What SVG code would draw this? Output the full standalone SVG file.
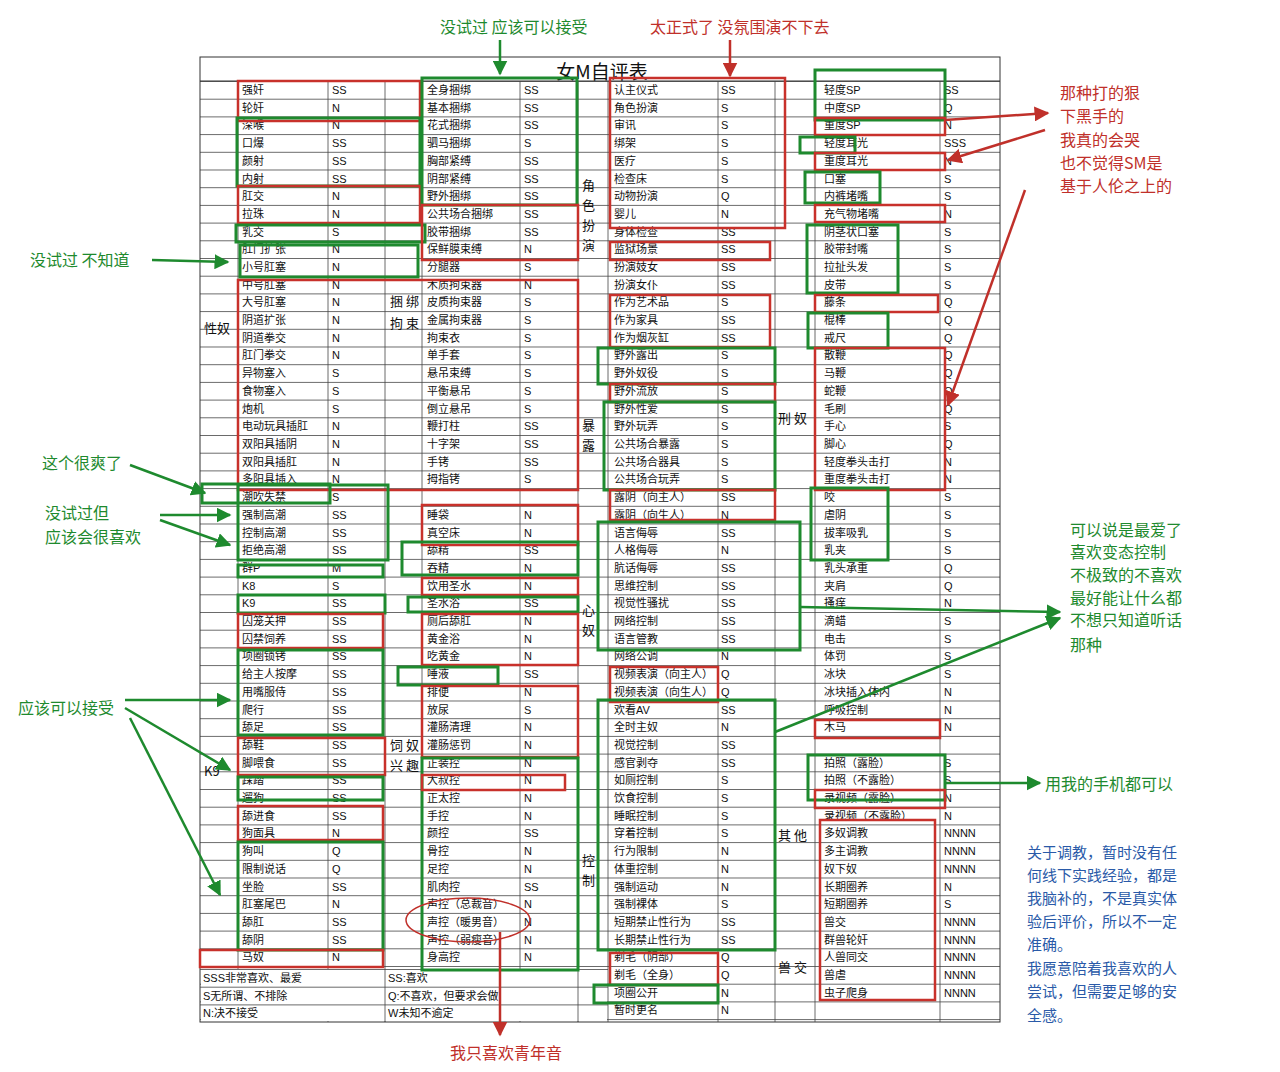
<svg xmlns="http://www.w3.org/2000/svg" width="1280" height="1072" viewBox="0 0 1280 1072">
<defs>
<pattern id="rows" patternUnits="userSpaceOnUse" x="0" y="81" width="1280" height="17.7"><line x1="0" y1="0.5" x2="1280" y2="0.5" stroke="#444" stroke-width="0.8"/></pattern>
<marker id="ag" viewBox="0 0 10 10" refX="9" refY="5" markerWidth="6" markerHeight="6" orient="auto"><path d="M0,0L10,5L0,10z" fill="#1e8a2e"/></marker>
<marker id="ar" viewBox="0 0 10 10" refX="9" refY="5" markerWidth="6" markerHeight="6" orient="auto"><path d="M0,0L10,5L0,10z" fill="#c0302a"/></marker>
</defs>
<style>
.t{font-family:"Liberation Sans","Noto Sans CJK SC",sans-serif;font-size:11px;fill:#111}
.c{font-family:"Noto Sans CJK SC",sans-serif;font-size:13px;fill:#111}
.ti{font-family:"Noto Sans CJK SC",sans-serif;font-size:19px;fill:#111}
.g{fill:none;stroke:#1e8a2e;stroke-width:3}
.r{fill:none;stroke:#c8312b;stroke-width:2.5}
.gl{stroke:#1e8a2e;stroke-width:2.5;fill:none}
.rl{stroke:#c0302a;stroke-width:2.5;fill:none}
.gt{font-family:"Noto Sans CJK SC",sans-serif;font-size:16px;fill:#1e8a2e}
.rt{font-family:"Noto Sans CJK SC",sans-serif;font-size:16px;fill:#c0302a}
.bt{font-family:"Noto Sans CJK SC",sans-serif;font-size:15px;fill:#2a5aa8}
</style>
<rect width="1280" height="1072" fill="#fff"/>
<g id="table">
<rect x="200" y="81" width="800" height="941" fill="url(#rows)"/>
<rect x="200" y="57" width="800" height="965" fill="none" stroke="#333"/>
<line x1="200" y1="81" x2="1000" y2="81" stroke="#333"/>
<g stroke="#444" stroke-width="0.8">
<line x1="238" y1="81" x2="238" y2="970"/><line x1="328" y1="81" x2="328" y2="1022"/><line x1="385" y1="81" x2="385" y2="1022"/><line x1="422" y1="81" x2="422" y2="970"/><line x1="520" y1="81" x2="520" y2="1022"/><line x1="578" y1="81" x2="578" y2="1022"/><line x1="608" y1="81" x2="608" y2="1022"/><line x1="718" y1="81" x2="718" y2="1022"/><line x1="775" y1="81" x2="775" y2="1022"/><line x1="815" y1="81" x2="815" y2="1022"/><line x1="940" y1="81" x2="940" y2="1022"/>
</g>
<text x="602" y="79" class="ti" text-anchor="middle">女M自评表</text>
<text class="c"><tspan x="204" y="333">性奴</tspan><tspan x="204" y="776">K9</tspan><tspan x="390" y="306">捆 绑</tspan><tspan x="390" y="328">拘 束</tspan><tspan x="390" y="750">饲 奴</tspan><tspan x="390" y="770">兴 趣</tspan><tspan x="582" y="190">角</tspan><tspan x="582" y="210">色</tspan><tspan x="582" y="230">扮</tspan><tspan x="582" y="250">演</tspan><tspan x="582" y="430">暴</tspan><tspan x="582" y="450">露</tspan><tspan x="582" y="615">心</tspan><tspan x="582" y="635">奴</tspan><tspan x="582" y="865">控</tspan><tspan x="582" y="885">制</tspan><tspan x="778" y="423">刑 奴</tspan><tspan x="778" y="840">其 他</tspan><tspan x="778" y="972">兽 交</tspan></text>
<text class="t"><tspan x="242" y="94">强奸</tspan><tspan x="242" dy="17.7">轮奸</tspan><tspan x="242" dy="17.7">深喉</tspan><tspan x="242" dy="17.7">口爆</tspan><tspan x="242" dy="17.7">颜射</tspan><tspan x="242" dy="17.7">内射</tspan><tspan x="242" dy="17.7">肛交</tspan><tspan x="242" dy="17.7">拉珠</tspan><tspan x="242" dy="17.7">乳交</tspan><tspan x="242" dy="17.7">肛门扩张</tspan><tspan x="242" dy="17.7">小号肛塞</tspan><tspan x="242" dy="17.7">中号肛塞</tspan><tspan x="242" dy="17.7">大号肛塞</tspan><tspan x="242" dy="17.7">阴道扩张</tspan><tspan x="242" dy="17.7">阴道拳交</tspan><tspan x="242" dy="17.7">肛门拳交</tspan><tspan x="242" dy="17.7">异物塞入</tspan><tspan x="242" dy="17.7">食物塞入</tspan><tspan x="242" dy="17.7">炮机</tspan><tspan x="242" dy="17.7">电动玩具插肛</tspan><tspan x="242" dy="17.7">双阳具插阴</tspan><tspan x="242" dy="17.7">双阳具插肛</tspan><tspan x="242" dy="17.7">多阳具插入</tspan><tspan x="242" dy="17.7">潮吹失禁</tspan><tspan x="242" dy="17.7">强制高潮</tspan><tspan x="242" dy="17.7">控制高潮</tspan><tspan x="242" dy="17.7">拒绝高潮</tspan><tspan x="242" dy="17.7">群P</tspan><tspan x="242" dy="17.7">K8</tspan><tspan x="242" dy="17.7">K9</tspan><tspan x="242" dy="17.7">囚笼关押</tspan><tspan x="242" dy="17.7">囚禁饲养</tspan><tspan x="242" dy="17.7">项圈锁铐</tspan><tspan x="242" dy="17.7">给主人按摩</tspan><tspan x="242" dy="17.7">用嘴服侍</tspan><tspan x="242" dy="17.7">爬行</tspan><tspan x="242" dy="17.7">舔足</tspan><tspan x="242" dy="17.7">舔鞋</tspan><tspan x="242" dy="17.7">脚喂食</tspan><tspan x="242" dy="17.7">踩踏</tspan><tspan x="242" dy="17.7">遛狗</tspan><tspan x="242" dy="17.7">舔进食</tspan><tspan x="242" dy="17.7">狗面具</tspan><tspan x="242" dy="17.7">狗叫</tspan><tspan x="242" dy="17.7">限制说话</tspan><tspan x="242" dy="17.7">坐脸</tspan><tspan x="242" dy="17.7">肛塞尾巴</tspan><tspan x="242" dy="17.7">舔肛</tspan><tspan x="242" dy="17.7">舔阴</tspan><tspan x="242" dy="17.7">马奴</tspan></text>
<text class="t"><tspan x="332" y="94">SS</tspan><tspan x="332" dy="17.7">N</tspan><tspan x="332" dy="17.7">N</tspan><tspan x="332" dy="17.7">SS</tspan><tspan x="332" dy="17.7">SS</tspan><tspan x="332" dy="17.7">SS</tspan><tspan x="332" dy="17.7">N</tspan><tspan x="332" dy="17.7">N</tspan><tspan x="332" dy="17.7">S</tspan><tspan x="332" dy="17.7">N</tspan><tspan x="332" dy="17.7">N</tspan><tspan x="332" dy="17.7">N</tspan><tspan x="332" dy="17.7">N</tspan><tspan x="332" dy="17.7">N</tspan><tspan x="332" dy="17.7">N</tspan><tspan x="332" dy="17.7">N</tspan><tspan x="332" dy="17.7">S</tspan><tspan x="332" dy="17.7">S</tspan><tspan x="332" dy="17.7">S</tspan><tspan x="332" dy="17.7">N</tspan><tspan x="332" dy="17.7">N</tspan><tspan x="332" dy="17.7">N</tspan><tspan x="332" dy="17.7">N</tspan><tspan x="332" dy="17.7">S</tspan><tspan x="332" dy="17.7">SS</tspan><tspan x="332" dy="17.7">SS</tspan><tspan x="332" dy="17.7">SS</tspan><tspan x="332" dy="17.7">M</tspan><tspan x="332" dy="17.7">S</tspan><tspan x="332" dy="17.7">SS</tspan><tspan x="332" dy="17.7">SS</tspan><tspan x="332" dy="17.7">SS</tspan><tspan x="332" dy="17.7">SS</tspan><tspan x="332" dy="17.7">SS</tspan><tspan x="332" dy="17.7">SS</tspan><tspan x="332" dy="17.7">SS</tspan><tspan x="332" dy="17.7">SS</tspan><tspan x="332" dy="17.7">SS</tspan><tspan x="332" dy="17.7">SS</tspan><tspan x="332" dy="17.7">SS</tspan><tspan x="332" dy="17.7">SS</tspan><tspan x="332" dy="17.7">SS</tspan><tspan x="332" dy="17.7">N</tspan><tspan x="332" dy="17.7">Q</tspan><tspan x="332" dy="17.7">Q</tspan><tspan x="332" dy="17.7">SS</tspan><tspan x="332" dy="17.7">N</tspan><tspan x="332" dy="17.7">SS</tspan><tspan x="332" dy="17.7">SS</tspan><tspan x="332" dy="17.7">N</tspan></text>
<text class="t"><tspan x="427" y="94">全身捆绑</tspan><tspan x="427" dy="17.7">基本捆绑</tspan><tspan x="427" dy="17.7">花式捆绑</tspan><tspan x="427" dy="17.7">驷马捆绑</tspan><tspan x="427" dy="17.7">胸部紧缚</tspan><tspan x="427" dy="17.7">阴部紧缚</tspan><tspan x="427" dy="17.7">野外捆绑</tspan><tspan x="427" dy="17.7">公共场合捆绑</tspan><tspan x="427" dy="17.7">胶带捆绑</tspan><tspan x="427" dy="17.7">保鲜膜束缚</tspan><tspan x="427" dy="17.7">分腿器</tspan><tspan x="427" dy="17.7">木质拘束器</tspan><tspan x="427" dy="17.7">皮质拘束器</tspan><tspan x="427" dy="17.7">金属拘束器</tspan><tspan x="427" dy="17.7">拘束衣</tspan><tspan x="427" dy="17.7">单手套</tspan><tspan x="427" dy="17.7">悬吊束缚</tspan><tspan x="427" dy="17.7">平衡悬吊</tspan><tspan x="427" dy="17.7">倒立悬吊</tspan><tspan x="427" dy="17.7">鞭打柱</tspan><tspan x="427" dy="17.7">十字架</tspan><tspan x="427" dy="17.7">手铐</tspan><tspan x="427" dy="17.7">拇指铐</tspan><tspan x="427" dy="17.7">&#160;</tspan><tspan x="427" dy="17.7">睡袋</tspan><tspan x="427" dy="17.7">真空床</tspan><tspan x="427" dy="17.7">舔精</tspan><tspan x="427" dy="17.7">吞精</tspan><tspan x="427" dy="17.7">饮用圣水</tspan><tspan x="427" dy="17.7">圣水浴</tspan><tspan x="427" dy="17.7">厕后舔肛</tspan><tspan x="427" dy="17.7">黄金浴</tspan><tspan x="427" dy="17.7">吃黄金</tspan><tspan x="427" dy="17.7">唾液</tspan><tspan x="427" dy="17.7">排便</tspan><tspan x="427" dy="17.7">放尿</tspan><tspan x="427" dy="17.7">灌肠清理</tspan><tspan x="427" dy="17.7">灌肠惩罚</tspan><tspan x="427" dy="17.7">正装控</tspan><tspan x="427" dy="17.7">大叔控</tspan><tspan x="427" dy="17.7">正太控</tspan><tspan x="427" dy="17.7">手控</tspan><tspan x="427" dy="17.7">颜控</tspan><tspan x="427" dy="17.7">骨控</tspan><tspan x="427" dy="17.7">足控</tspan><tspan x="427" dy="17.7">肌肉控</tspan><tspan x="427" dy="17.7">声控（总裁音）</tspan><tspan x="427" dy="17.7">声控（暖男音）</tspan><tspan x="427" dy="17.7">声控（弱瘦音）</tspan><tspan x="427" dy="17.7">身高控</tspan></text>
<text class="t"><tspan x="524" y="94">SS</tspan><tspan x="524" dy="17.7">SS</tspan><tspan x="524" dy="17.7">SS</tspan><tspan x="524" dy="17.7">S</tspan><tspan x="524" dy="17.7">SS</tspan><tspan x="524" dy="17.7">SS</tspan><tspan x="524" dy="17.7">SS</tspan><tspan x="524" dy="17.7">SS</tspan><tspan x="524" dy="17.7">SS</tspan><tspan x="524" dy="17.7">N</tspan><tspan x="524" dy="17.7">S</tspan><tspan x="524" dy="17.7">N</tspan><tspan x="524" dy="17.7">S</tspan><tspan x="524" dy="17.7">S</tspan><tspan x="524" dy="17.7">S</tspan><tspan x="524" dy="17.7">S</tspan><tspan x="524" dy="17.7">S</tspan><tspan x="524" dy="17.7">S</tspan><tspan x="524" dy="17.7">S</tspan><tspan x="524" dy="17.7">SS</tspan><tspan x="524" dy="17.7">SS</tspan><tspan x="524" dy="17.7">SS</tspan><tspan x="524" dy="17.7">S</tspan><tspan x="524" dy="17.7">&#160;</tspan><tspan x="524" dy="17.7">N</tspan><tspan x="524" dy="17.7">N</tspan><tspan x="524" dy="17.7">SS</tspan><tspan x="524" dy="17.7">N</tspan><tspan x="524" dy="17.7">N</tspan><tspan x="524" dy="17.7">SS</tspan><tspan x="524" dy="17.7">N</tspan><tspan x="524" dy="17.7">N</tspan><tspan x="524" dy="17.7">N</tspan><tspan x="524" dy="17.7">SS</tspan><tspan x="524" dy="17.7">N</tspan><tspan x="524" dy="17.7">S</tspan><tspan x="524" dy="17.7">N</tspan><tspan x="524" dy="17.7">N</tspan><tspan x="524" dy="17.7">N</tspan><tspan x="524" dy="17.7">N</tspan><tspan x="524" dy="17.7">N</tspan><tspan x="524" dy="17.7">N</tspan><tspan x="524" dy="17.7">SS</tspan><tspan x="524" dy="17.7">N</tspan><tspan x="524" dy="17.7">N</tspan><tspan x="524" dy="17.7">SS</tspan><tspan x="524" dy="17.7">N</tspan><tspan x="524" dy="17.7">N</tspan><tspan x="524" dy="17.7">N</tspan><tspan x="524" dy="17.7">N</tspan></text>
<text class="t"><tspan x="614" y="94">认主仪式</tspan><tspan x="614" dy="17.7">角色扮演</tspan><tspan x="614" dy="17.7">审讯</tspan><tspan x="614" dy="17.7">绑架</tspan><tspan x="614" dy="17.7">医疗</tspan><tspan x="614" dy="17.7">检查床</tspan><tspan x="614" dy="17.7">动物扮演</tspan><tspan x="614" dy="17.7">婴儿</tspan><tspan x="614" dy="17.7">身体检查</tspan><tspan x="614" dy="17.7">监狱场景</tspan><tspan x="614" dy="17.7">扮演妓女</tspan><tspan x="614" dy="17.7">扮演女仆</tspan><tspan x="614" dy="17.7">作为艺术品</tspan><tspan x="614" dy="17.7">作为家具</tspan><tspan x="614" dy="17.7">作为烟灰缸</tspan><tspan x="614" dy="17.7">野外露出</tspan><tspan x="614" dy="17.7">野外奴役</tspan><tspan x="614" dy="17.7">野外流放</tspan><tspan x="614" dy="17.7">野外性爱</tspan><tspan x="614" dy="17.7">野外玩弄</tspan><tspan x="614" dy="17.7">公共场合暴露</tspan><tspan x="614" dy="17.7">公共场合器具</tspan><tspan x="614" dy="17.7">公共场合玩弄</tspan><tspan x="614" dy="17.7">露阴（向主人）</tspan><tspan x="614" dy="17.7">露阴（向生人）</tspan><tspan x="614" dy="17.7">语言侮辱</tspan><tspan x="614" dy="17.7">人格侮辱</tspan><tspan x="614" dy="17.7">肮话侮辱</tspan><tspan x="614" dy="17.7">思维控制</tspan><tspan x="614" dy="17.7">视觉性骚扰</tspan><tspan x="614" dy="17.7">网络控制</tspan><tspan x="614" dy="17.7">语言管教</tspan><tspan x="614" dy="17.7">网络公调</tspan><tspan x="614" dy="17.7">视频表演（向主人）</tspan><tspan x="614" dy="17.7">视频表演（向生人）</tspan><tspan x="614" dy="17.7">欢看AV</tspan><tspan x="614" dy="17.7">全时主奴</tspan><tspan x="614" dy="17.7">视觉控制</tspan><tspan x="614" dy="17.7">感官剥夺</tspan><tspan x="614" dy="17.7">如厕控制</tspan><tspan x="614" dy="17.7">饮食控制</tspan><tspan x="614" dy="17.7">睡眠控制</tspan><tspan x="614" dy="17.7">穿着控制</tspan><tspan x="614" dy="17.7">行为限制</tspan><tspan x="614" dy="17.7">体重控制</tspan><tspan x="614" dy="17.7">强制运动</tspan><tspan x="614" dy="17.7">强制裸体</tspan><tspan x="614" dy="17.7">短期禁止性行为</tspan><tspan x="614" dy="17.7">长期禁止性行为</tspan><tspan x="614" dy="17.7">剃毛（阴部）</tspan><tspan x="614" dy="17.7">剃毛（全身）</tspan><tspan x="614" dy="17.7">项圈公开</tspan><tspan x="614" dy="17.7">暂时更名</tspan></text>
<text class="t"><tspan x="721" y="94">SS</tspan><tspan x="721" dy="17.7">S</tspan><tspan x="721" dy="17.7">S</tspan><tspan x="721" dy="17.7">S</tspan><tspan x="721" dy="17.7">S</tspan><tspan x="721" dy="17.7">S</tspan><tspan x="721" dy="17.7">Q</tspan><tspan x="721" dy="17.7">N</tspan><tspan x="721" dy="17.7">SS</tspan><tspan x="721" dy="17.7">SS</tspan><tspan x="721" dy="17.7">SS</tspan><tspan x="721" dy="17.7">SS</tspan><tspan x="721" dy="17.7">S</tspan><tspan x="721" dy="17.7">SS</tspan><tspan x="721" dy="17.7">SS</tspan><tspan x="721" dy="17.7">S</tspan><tspan x="721" dy="17.7">S</tspan><tspan x="721" dy="17.7">S</tspan><tspan x="721" dy="17.7">S</tspan><tspan x="721" dy="17.7">S</tspan><tspan x="721" dy="17.7">S</tspan><tspan x="721" dy="17.7">S</tspan><tspan x="721" dy="17.7">S</tspan><tspan x="721" dy="17.7">SS</tspan><tspan x="721" dy="17.7">N</tspan><tspan x="721" dy="17.7">SS</tspan><tspan x="721" dy="17.7">N</tspan><tspan x="721" dy="17.7">SS</tspan><tspan x="721" dy="17.7">SS</tspan><tspan x="721" dy="17.7">SS</tspan><tspan x="721" dy="17.7">SS</tspan><tspan x="721" dy="17.7">SS</tspan><tspan x="721" dy="17.7">N</tspan><tspan x="721" dy="17.7">Q</tspan><tspan x="721" dy="17.7">Q</tspan><tspan x="721" dy="17.7">SS</tspan><tspan x="721" dy="17.7">N</tspan><tspan x="721" dy="17.7">SS</tspan><tspan x="721" dy="17.7">SS</tspan><tspan x="721" dy="17.7">S</tspan><tspan x="721" dy="17.7">S</tspan><tspan x="721" dy="17.7">S</tspan><tspan x="721" dy="17.7">S</tspan><tspan x="721" dy="17.7">N</tspan><tspan x="721" dy="17.7">N</tspan><tspan x="721" dy="17.7">N</tspan><tspan x="721" dy="17.7">S</tspan><tspan x="721" dy="17.7">SS</tspan><tspan x="721" dy="17.7">SS</tspan><tspan x="721" dy="17.7">Q</tspan><tspan x="721" dy="17.7">Q</tspan><tspan x="721" dy="17.7">N</tspan><tspan x="721" dy="17.7">N</tspan></text>
<text class="t"><tspan x="824" y="94">轻度SP</tspan><tspan x="824" dy="17.7">中度SP</tspan><tspan x="824" dy="17.7">重度SP</tspan><tspan x="824" dy="17.7">轻度耳光</tspan><tspan x="824" dy="17.7">重度耳光</tspan><tspan x="824" dy="17.7">口塞</tspan><tspan x="824" dy="17.7">内裤堵嘴</tspan><tspan x="824" dy="17.7">充气物堵嘴</tspan><tspan x="824" dy="17.7">阴茎状口塞</tspan><tspan x="824" dy="17.7">胶带封嘴</tspan><tspan x="824" dy="17.7">拉扯头发</tspan><tspan x="824" dy="17.7">皮带</tspan><tspan x="824" dy="17.7">藤条</tspan><tspan x="824" dy="17.7">棍棒</tspan><tspan x="824" dy="17.7">戒尺</tspan><tspan x="824" dy="17.7">散鞭</tspan><tspan x="824" dy="17.7">马鞭</tspan><tspan x="824" dy="17.7">蛇鞭</tspan><tspan x="824" dy="17.7">毛刷</tspan><tspan x="824" dy="17.7">手心</tspan><tspan x="824" dy="17.7">脚心</tspan><tspan x="824" dy="17.7">轻度拳头击打</tspan><tspan x="824" dy="17.7">重度拳头击打</tspan><tspan x="824" dy="17.7">咬</tspan><tspan x="824" dy="17.7">虐阴</tspan><tspan x="824" dy="17.7">拔率吸乳</tspan><tspan x="824" dy="17.7">乳夹</tspan><tspan x="824" dy="17.7">乳头承重</tspan><tspan x="824" dy="17.7">夹肩</tspan><tspan x="824" dy="17.7">搔痒</tspan><tspan x="824" dy="17.7">滴蜡</tspan><tspan x="824" dy="17.7">电击</tspan><tspan x="824" dy="17.7">体罚</tspan><tspan x="824" dy="17.7">冰块</tspan><tspan x="824" dy="17.7">冰块插入体内</tspan><tspan x="824" dy="17.7">呼吸控制</tspan><tspan x="824" dy="17.7">木马</tspan><tspan x="824" dy="17.7">&#160;</tspan><tspan x="824" dy="17.7">拍照（露脸）</tspan><tspan x="824" dy="17.7">拍照（不露脸）</tspan><tspan x="824" dy="17.7">录视频（露脸）</tspan><tspan x="824" dy="17.7">录视频（不露脸）</tspan><tspan x="824" dy="17.7">多奴调教</tspan><tspan x="824" dy="17.7">多主调教</tspan><tspan x="824" dy="17.7">奴下奴</tspan><tspan x="824" dy="17.7">长期圈养</tspan><tspan x="824" dy="17.7">短期圈养</tspan><tspan x="824" dy="17.7">兽交</tspan><tspan x="824" dy="17.7">群兽轮奸</tspan><tspan x="824" dy="17.7">人兽同交</tspan><tspan x="824" dy="17.7">兽虐</tspan><tspan x="824" dy="17.7">虫子爬身</tspan></text>
<text class="t"><tspan x="944" y="94">SS</tspan><tspan x="944" dy="17.7">Q</tspan><tspan x="944" dy="17.7">N</tspan><tspan x="944" dy="17.7">SSS</tspan><tspan x="944" dy="17.7">N</tspan><tspan x="944" dy="17.7">S</tspan><tspan x="944" dy="17.7">S</tspan><tspan x="944" dy="17.7">N</tspan><tspan x="944" dy="17.7">S</tspan><tspan x="944" dy="17.7">S</tspan><tspan x="944" dy="17.7">S</tspan><tspan x="944" dy="17.7">S</tspan><tspan x="944" dy="17.7">Q</tspan><tspan x="944" dy="17.7">Q</tspan><tspan x="944" dy="17.7">Q</tspan><tspan x="944" dy="17.7">Q</tspan><tspan x="944" dy="17.7">Q</tspan><tspan x="944" dy="17.7">Q</tspan><tspan x="944" dy="17.7">Q</tspan><tspan x="944" dy="17.7">S</tspan><tspan x="944" dy="17.7">Q</tspan><tspan x="944" dy="17.7">N</tspan><tspan x="944" dy="17.7">N</tspan><tspan x="944" dy="17.7">S</tspan><tspan x="944" dy="17.7">S</tspan><tspan x="944" dy="17.7">S</tspan><tspan x="944" dy="17.7">S</tspan><tspan x="944" dy="17.7">Q</tspan><tspan x="944" dy="17.7">Q</tspan><tspan x="944" dy="17.7">N</tspan><tspan x="944" dy="17.7">S</tspan><tspan x="944" dy="17.7">S</tspan><tspan x="944" dy="17.7">S</tspan><tspan x="944" dy="17.7">S</tspan><tspan x="944" dy="17.7">N</tspan><tspan x="944" dy="17.7">N</tspan><tspan x="944" dy="17.7">N</tspan><tspan x="944" dy="17.7">&#160;</tspan><tspan x="944" dy="17.7">S</tspan><tspan x="944" dy="17.7">S</tspan><tspan x="944" dy="17.7">N</tspan><tspan x="944" dy="17.7">N</tspan><tspan x="944" dy="17.7">NNNN</tspan><tspan x="944" dy="17.7">NNNN</tspan><tspan x="944" dy="17.7">NNNN</tspan><tspan x="944" dy="17.7">N</tspan><tspan x="944" dy="17.7">S</tspan><tspan x="944" dy="17.7">NNNN</tspan><tspan x="944" dy="17.7">NNNN</tspan><tspan x="944" dy="17.7">NNNN</tspan><tspan x="944" dy="17.7">NNNN</tspan><tspan x="944" dy="17.7">NNNN</tspan></text>
<rect x="201" y="969" width="406" height="52" fill="#fff"/>
<line x1="200" y1="969.5" x2="608" y2="969.5" stroke="#444" stroke-width="0.8"/><line x1="200" y1="987.2" x2="608" y2="987.2" stroke="#444" stroke-width="0.8"/><line x1="200" y1="1004.9" x2="608" y2="1004.9" stroke="#444" stroke-width="0.8"/><line x1="385" y1="969" x2="385" y2="1022" stroke="#444" stroke-width="0.8"/><line x1="578" y1="969" x2="578" y2="1022" stroke="#444" stroke-width="0.8"/>
<text class="t"><tspan x="203" y="982">SSS非常喜欢、最爱</tspan><tspan x="203" y="999.7">S无所谓、不排除</tspan><tspan x="203" y="1017.4">N:决不接受</tspan><tspan x="388" y="982">SS:喜欢</tspan><tspan x="388" y="999.7">Q:不喜欢，但要求会做</tspan><tspan x="388" y="1017.4">W未知不逾定</tspan></text>
</g>
<g id="highlights">
<rect class="r" x="238" y="81" width="182" height="40"/><rect class="g" x="237" y="118" width="183" height="68"/><rect class="r" x="238" y="186" width="182" height="37"/><rect class="g" x="236" y="225" width="189" height="17"/><rect class="g" x="240" y="245" width="178" height="32" stroke-width="1.5"/><rect class="r" x="238" y="280" width="340" height="210"/><rect class="g" x="202" y="484" width="128" height="19"/><rect class="g" x="238" y="485" width="150" height="75"/><rect class="g" x="238" y="565" width="145" height="12" stroke-width="1.5"/><rect class="g" x="238" y="595" width="147" height="18"/><rect class="r" x="238" y="614" width="145" height="34"/><rect class="g" x="238" y="650" width="145" height="85" stroke-width="2"/><rect class="r" x="238" y="738" width="147" height="37"/><rect class="g" x="238" y="777" width="145" height="23"/><rect class="r" x="238" y="806" width="145" height="34"/><rect class="g" x="238" y="842" width="145" height="108" stroke-width="2"/><rect class="r" x="200" y="950" width="183" height="17"/>
<rect class="g" x="422" y="78" width="155" height="127"/><rect class="r" x="422" y="205" width="156" height="55"/><rect class="r" x="422" y="505" width="156" height="40"/><rect class="g" x="402" y="542" width="176" height="33"/><rect class="r" x="422" y="578" width="156" height="17"/><rect class="g" x="408" y="597" width="170" height="15"/><rect class="r" x="422" y="614" width="156" height="51"/><rect class="g" x="398" y="667" width="100" height="18"/><rect class="r" x="422" y="686" width="156" height="71"/><rect class="g" x="422" y="758" width="156" height="212"/><rect class="r" x="422" y="775" width="143" height="15"/>
<rect class="r" x="610" y="78" width="175" height="150"/><rect class="r" x="610" y="242" width="160" height="18"/><rect class="r" x="610" y="295" width="160" height="52"/><rect class="g" x="598" y="348" width="177" height="36"/><rect class="r" x="610" y="384" width="165" height="18"/><rect class="g" x="604" y="402" width="171" height="88"/><rect class="r" x="610" y="490" width="165" height="30"/><rect class="g" x="598" y="522" width="202" height="128"/><rect class="r" x="610" y="667" width="108" height="35"/><rect class="g" x="598" y="700" width="177" height="250"/><rect class="r" x="610" y="953" width="108" height="32" stroke-width="1.5"/><rect class="g" x="594" y="985" width="124" height="18"/>
<rect class="g" x="815" y="70" width="130" height="50"/><rect class="r" x="815" y="118" width="130" height="17"/><rect class="g" x="800" y="137" width="55" height="16"/><rect class="r" x="815" y="153" width="130" height="17"/><rect class="g" x="805" y="172" width="75" height="31"/><rect class="r" x="815" y="205" width="130" height="17"/><rect class="g" x="807" y="225" width="91" height="68"/><rect class="r" x="815" y="295" width="123" height="17"/><rect class="g" x="808" y="313" width="80" height="35"/><rect class="r" x="815" y="348" width="130" height="142"/><rect class="g" x="811" y="488" width="77" height="72"/><rect class="r" x="815" y="720" width="125" height="18"/><rect class="g" x="808" y="755" width="137" height="45"/><rect class="r" x="815" y="790" width="130" height="18"/><rect class="r" x="820" y="820" width="115" height="180"/>
</g>
<g id="connectors">
<line class="gl" x1="500" y1="40" x2="500" y2="74" marker-end="url(#ag)"/>
<line class="rl" x1="730" y1="40" x2="730" y2="76" marker-end="url(#ar)"/>
<line class="rl" x1="945" y1="120" x2="1048" y2="113" marker-end="url(#ar)"/>
<line class="rl" x1="1045" y1="130" x2="948" y2="160" marker-end="url(#ar)"/>
<line class="rl" x1="1025" y1="190" x2="948" y2="405" stroke-width="1.5" marker-end="url(#ar)"/>
<line class="gl" x1="152" y1="260" x2="228" y2="262" marker-end="url(#ag)"/>
<line class="gl" x1="130" y1="465" x2="205" y2="493" marker-end="url(#ag)"/>
<line class="gl" x1="160" y1="515" x2="230" y2="515" marker-end="url(#ag)"/>
<line class="gl" x1="160" y1="520" x2="230" y2="545" marker-end="url(#ag)"/>
<line class="gl" x1="125" y1="700" x2="230" y2="700" marker-end="url(#ag)"/>
<line class="gl" x1="125" y1="708" x2="230" y2="770" marker-end="url(#ag)"/>
<line class="gl" x1="130" y1="718" x2="220" y2="895" marker-end="url(#ag)"/>
<line class="gl" x1="800" y1="607" x2="1060" y2="612" marker-end="url(#ag)"/>
<line class="gl" x1="775" y1="732" x2="1060" y2="618" stroke-width="1.5" marker-end="url(#ag)"/>
<line class="gl" x1="945" y1="783" x2="1040" y2="783" marker-end="url(#ag)"/>
<ellipse cx="468" cy="920" rx="62" ry="22" fill="none" stroke="#c0302a" stroke-width="1.5"/>
<line class="rl" x1="500" y1="932" x2="500" y2="1035" marker-end="url(#ar)"/>
</g>
<g id="notes">
<text x="440" y="33" class="gt">没试过 应该可以接受</text>
<text x="650" y="33" class="rt">太正式了 没氛围演不下去</text>
<text class="rt"><tspan x="1060" y="99">那种打的狠</tspan><tspan x="1060" y="122">下黑手的</tspan><tspan x="1060" y="146">我真的会哭</tspan><tspan x="1060" y="169">也不觉得SM是</tspan><tspan x="1060" y="192">基于人伦之上的</tspan></text>
<text x="30" y="266" class="gt">没试过 不知道</text>
<text x="42" y="469" class="gt">这个很爽了</text>
<text class="gt"><tspan x="45" y="519">没试过但</tspan><tspan x="45" y="543">应该会很喜欢</tspan></text>
<text x="18" y="714" class="gt">应该可以接受</text>
<text class="gt"><tspan x="1070" y="536">可以说是最爱了</tspan><tspan x="1070" y="558">喜欢变态控制</tspan><tspan x="1070" y="581">不极致的不喜欢</tspan><tspan x="1070" y="604">最好能让什么都</tspan><tspan x="1070" y="626">不想只知道听话</tspan><tspan x="1070" y="651">那种</tspan></text>
<text x="1045" y="790" class="gt">用我的手机都可以</text>
<text class="bt"><tspan x="1027" y="858">关于调教，暂时没有任</tspan><tspan x="1027" y="881">何线下实践经验，都是</tspan><tspan x="1027" y="904">我脑补的，不是真实体</tspan><tspan x="1027" y="927">验后评价，所以不一定</tspan><tspan x="1027" y="950">准确。</tspan><tspan x="1027" y="974">我愿意陪着我喜欢的人</tspan><tspan x="1027" y="997">尝试，但需要足够的安</tspan><tspan x="1027" y="1021">全感。</tspan></text>
<text x="450" y="1059" class="rt">我只喜欢青年音</text>
</g>
</svg>
